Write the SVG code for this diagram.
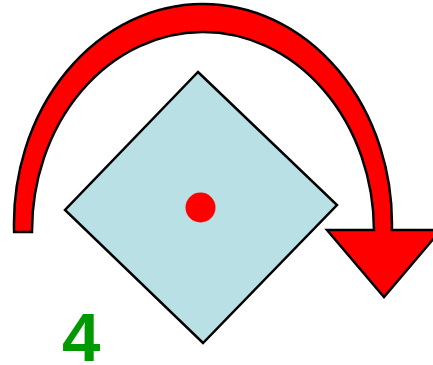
<svg xmlns="http://www.w3.org/2000/svg" width="433" height="365" viewBox="0 0 433 365">
<style>
.shape{stroke:#000;stroke-width:2.5;stroke-linejoin:miter}
.label{font-family:"Liberation Sans",Arial,sans-serif;font-weight:bold;font-size:69px;fill:#009900}
</style>
<rect width="433" height="365" fill="#fff"/>
<g id="connectors">
<path id="rotation-arrow" class="shape" fill="#ff0000" d="M14.1,232 A189,220 0 1 1 391.9,230 L441,230 L384,297 L327,230 L374,230 A171,199 0 1 0 32,232 Z"/>
</g>
<g id="square">
<polygon class="shape" fill="#b9e0e4" points="198,72 337,205 203,343 65,210"/>
</g>
<g id="center">
<circle cx="200.5" cy="207.5" r="15" fill="#ff0000"/>
</g>
<g id="number">
<text class="label" x="62" y="361">4</text>
</g>
</svg>
